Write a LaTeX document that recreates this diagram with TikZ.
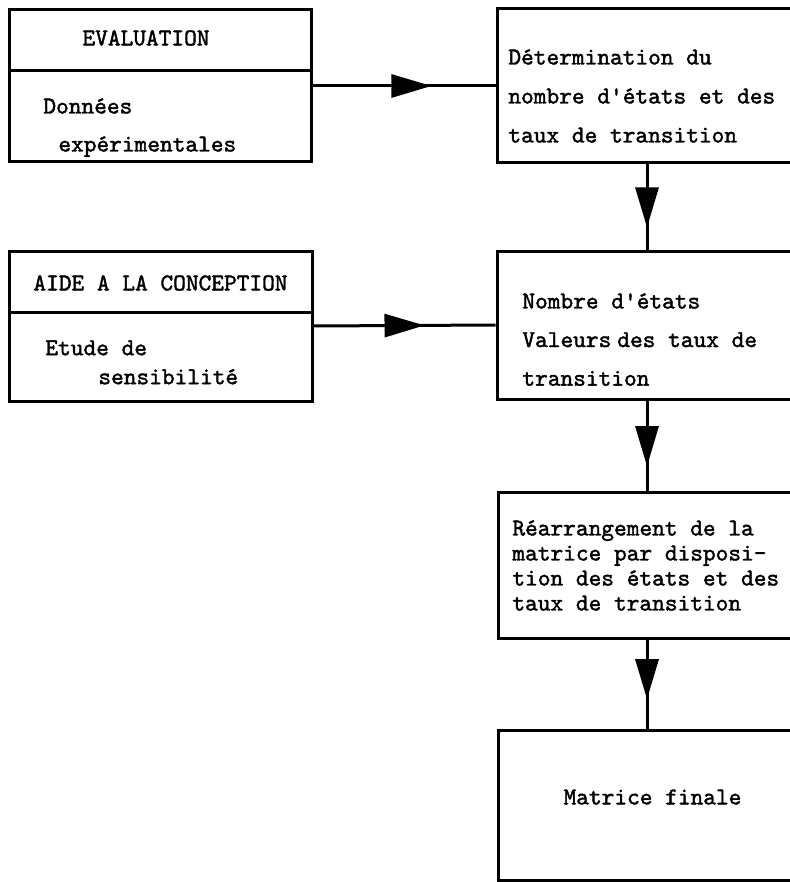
\documentclass[tikz,border=0pt]{standalone}
\usepackage{fontspec}
\setmonofont{lmmono10-regular.otf}[AutoFakeBold=1.6]
\usetikzlibrary{arrows.meta,decorations.markings,calc}

\tikzset{
  box/.style={draw, line width=1.5pt, inner sep=0pt},
  txt/.style={inner sep=0pt, align=left, font=\ttfamily\bfseries\fontsize{12.1}{#1}\selectfont},
  txt/.default=19.3,
  flow/.style={draw, line width=1.5pt, postaction={decorate},
    decoration={markings, mark=at position #1 with {\arrow{Triangle[length=20pt,width=11.5pt]}}}}
}

\begin{document}
\begin{tikzpicture}[x=0.5pt,y=-0.5pt]
\useasboundingbox (0,0) rectangle (790,882);
\clip (0,0) rectangle (790,882);
% left column
\node[box, minimum width=151pt, minimum height=76pt] (eval) at (160,86) {};
\node[box, minimum width=151.5pt, minimum height=75pt] (aide) at (160.5,326) {};
\draw[line width=1.5pt] ($(eval.north west)!0.4!(eval.south west)$) -- ($(eval.north east)!0.4!(eval.south east)$);
\draw[line width=1.5pt] ($(aide.north west)!0.41!(aide.south west)$) -- ($(aide.north east)!0.41!(aide.south east)$);
\node[txt] (evaltitle) at (146,38) {EVALUATION};
\node[txt=19, anchor=north west] (evaltxt) at (43,98) {Données\\\hspace*{7.5pt}expérimentales};
\node[txt] (aidetitle) at (160.5,283) {AIDE A LA CONCEPTION};
\node[txt=14.5, anchor=north west] (aidetxt) at (45,340) {Etude de\\\hspace*{26.5pt}sensibilité};
% right column
\node[box, minimum width=150pt, minimum height=77pt] (det) at (647,86) {};
\node[box, minimum width=150pt, minimum height=74pt] (nombre) at (647,325) {};
\node[box, minimum width=149pt, minimum height=73pt] (rearr) at (647,565) {};
\node[box, minimum width=149pt, minimum height=75pt] (matrice) at (647,805) {};
\node[txt=19.5, anchor=north west] (dettxt) at (508,49) {Détermination du\\nombre d'états et des\\taux de transition};
\node[txt=19.3, anchor=north west] (nombretxt) at (522,293) {Nombre d'états\\Valeurs\hspace{3pt}des taux de\\transition};
\node[txt=12.5, anchor=north west] (rearrtxt) at (512,520) {Réarrangement de la\\matrice par disposi-\\tion des états et des\\taux de transition};
\node[txt] (matricetxt) at (652.5,797) {Matrice finale};
% connectors
\path[flow=0.65] (eval.east) -- (det.west);
\path[flow=0.61] (aide.east) -- (nombre.west);
\path[flow=0.74] (det.south) -- (nombre.north);
\path[flow=0.73] (nombre.south) -- (rearr.north);
\path[flow=0.67] (rearr.south) -- (matrice.north);
\end{tikzpicture}
\end{document}
